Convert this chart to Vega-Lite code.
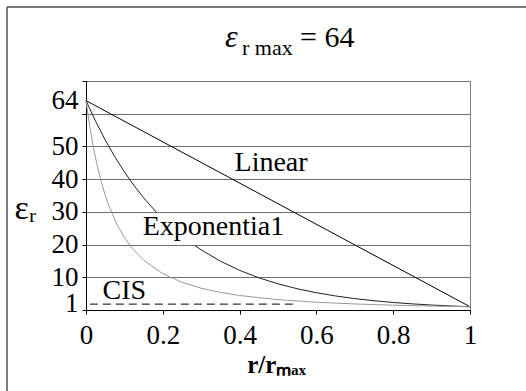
{
  "$schema": "https://vega.github.io/schema/vega-lite/v6.json",
  "width": 384,
  "height": 229,
  "autosize": "none",
  "padding": {"left": 86, "top": 81, "right": 56, "bottom": 81},
  "background": "white",
  "config": {
    "view": {"stroke": "#808080", "strokeWidth": 1},
    "font": "Liberation Serif",
    "axis": {"labelOverlap": false, "labelFlush": false}
  },
  "datasets": {
    "curves": [
      {"curve": "Linear", "seg": "L", "r": 0, "eps": 64},
      {"curve": "Linear", "seg": "L", "r": 1, "eps": 1},
      {"curve": "Exponential", "seg": "E1", "r": 0, "eps": 64},
      {"curve": "Exponential", "seg": "E1", "r": 0.025, "eps": 57.68},
      {"curve": "Exponential", "seg": "E1", "r": 0.05, "eps": 51.98},
      {"curve": "Exponential", "seg": "E1", "r": 0.075, "eps": 46.85},
      {"curve": "Exponential", "seg": "E1", "r": 0.1, "eps": 42.22},
      {"curve": "Exponential", "seg": "E1", "r": 0.125, "eps": 38.05},
      {"curve": "Exponential", "seg": "E1", "r": 0.15, "eps": 34.3},
      {"curve": "Exponential", "seg": "E1", "r": 0.184, "eps": 29.78},
      {"curve": "Exponential", "seg": "E2", "r": 0.284, "eps": 19.64},
      {"curve": "Exponential", "seg": "E2", "r": 0.3, "eps": 18.38},
      {"curve": "Exponential", "seg": "E2", "r": 0.35, "eps": 14.93},
      {"curve": "Exponential", "seg": "E2", "r": 0.4, "eps": 12.13},
      {"curve": "Exponential", "seg": "E2", "r": 0.45, "eps": 9.85},
      {"curve": "Exponential", "seg": "E2", "r": 0.5, "eps": 8},
      {"curve": "Exponential", "seg": "E2", "r": 0.55, "eps": 6.5},
      {"curve": "Exponential", "seg": "E2", "r": 0.6, "eps": 5.28},
      {"curve": "Exponential", "seg": "E2", "r": 0.65, "eps": 4.29},
      {"curve": "Exponential", "seg": "E2", "r": 0.7, "eps": 3.48},
      {"curve": "Exponential", "seg": "E2", "r": 0.75, "eps": 2.83},
      {"curve": "Exponential", "seg": "E2", "r": 0.8, "eps": 2.3},
      {"curve": "Exponential", "seg": "E2", "r": 0.85, "eps": 1.87},
      {"curve": "Exponential", "seg": "E2", "r": 0.9, "eps": 1.52},
      {"curve": "Exponential", "seg": "E2", "r": 0.95, "eps": 1.23},
      {"curve": "Exponential", "seg": "E2", "r": 1, "eps": 1},
      {"curve": "CIS", "seg": "C", "r": 0, "eps": 64},
      {"curve": "CIS", "seg": "C", "r": 0.01, "eps": 55.9},
      {"curve": "CIS", "seg": "C", "r": 0.02, "eps": 49.25},
      {"curve": "CIS", "seg": "C", "r": 0.03, "eps": 43.71},
      {"curve": "CIS", "seg": "C", "r": 0.04, "eps": 39.06},
      {"curve": "CIS", "seg": "C", "r": 0.05, "eps": 35.12},
      {"curve": "CIS", "seg": "C", "r": 0.06, "eps": 31.74},
      {"curve": "CIS", "seg": "C", "r": 0.08, "eps": 26.3},
      {"curve": "CIS", "seg": "C", "r": 0.1, "eps": 22.15},
      {"curve": "CIS", "seg": "C", "r": 0.12, "eps": 18.9},
      {"curve": "CIS", "seg": "C", "r": 0.15, "eps": 15.23},
      {"curve": "CIS", "seg": "C", "r": 0.2, "eps": 11.11},
      {"curve": "CIS", "seg": "C", "r": 0.25, "eps": 8.46},
      {"curve": "CIS", "seg": "C", "r": 0.3, "eps": 6.66},
      {"curve": "CIS", "seg": "C", "r": 0.35, "eps": 5.38},
      {"curve": "CIS", "seg": "C", "r": 0.4, "eps": 4.43},
      {"curve": "CIS", "seg": "C", "r": 0.5, "eps": 3.16},
      {"curve": "CIS", "seg": "C", "r": 0.6, "eps": 2.37},
      {"curve": "CIS", "seg": "C", "r": 0.7, "eps": 1.84},
      {"curve": "CIS", "seg": "C", "r": 0.8, "eps": 1.47},
      {"curve": "CIS", "seg": "C", "r": 0.9, "eps": 1.2},
      {"curve": "CIS", "seg": "C", "r": 1, "eps": 1}
    ],
    "level": [
      {"r": 0.01, "eps": 1.8},
      {"r": 0.55, "eps": 1.8}
    ],
    "labels": [
      {"label": "Linear", "r": 0.482, "eps": 45},
      {"label": "Exponentia1", "r": 0.332, "eps": 25.4},
      {"label": "CIS", "r": 0.1, "eps": 5.8}
    ]
  },
  "layer": [
    {
      "data": {"name": "curves"},
      "mark": {"type": "line", "strokeWidth": 1, "clip": false},
      "encoding": {
        "x": {
          "field": "r", "type": "quantitative",
          "scale": {"domain": [0, 1], "nice": false, "zero": false},
          "axis": {
            "values": [0, 0.2, 0.4, 0.6, 0.8, 1],
            "tickCount": 20,
            "labelExpr": "datum.value + ''",
            "grid": false,
            "domainColor": "black", "tickColor": "black", "tickSize": 4,
            "labelFont": "Liberation Serif", "labelFontSize": 27, "labelColor": "black", "labelPadding": 8,
            "labelFlush": false, "labelOverlap": false,
            "title": "r/rₘₐₓ", "titleFont": "Liberation Serif", "titleFontSize": 25, "titleFontWeight": "bold", "titleColor": "black",
            "titleX": 190, "titleY": 62, "titleAlign": "center", "titleBaseline": "alphabetic"
          }
        },
        "y": {
          "field": "eps", "type": "quantitative",
          "scale": {"domain": [0, 70], "nice": false},
          "axis": {
            "values": [0, 2, 10, 20, 30, 40, 50, 60, 64, 70],
            "tickCount": 20,
            "labelExpr": "datum.value == 2 ? '1' : ((datum.value == 64 || (datum.value >= 10 && datum.value <= 50)) ? datum.label : '')",
            "grid": true,
            "gridColor": "#707070",
            "gridWidth": 1,
            "gridOpacity": {"condition": {"test": "datum.value == 2 || datum.value == 64 || datum.value == 0", "value": 0}, "value": 1},
            "tickOpacity": {"condition": {"test": "datum.value == 2 || datum.value == 64", "value": 0}, "value": 1},
            "domainColor": "black", "tickColor": "black", "tickSize": 4,
            "labelFont": "Liberation Serif", "labelFontSize": 27, "labelColor": "black", "labelPadding": 4,
            "labelOverlap": false, "labelFlush": false,
            "title": "εᵣ", "titleFont": "Liberation Serif", "titleFontSize": 34, "titleFontWeight": "normal", "titleColor": "black",
            "titleAngle": 0, "titleX": -61, "titleY": 127, "titleAlign": "center", "titleBaseline": "middle"
          }
        },
        "color": {
          "field": "curve", "type": "nominal",
          "scale": {"domain": ["Linear", "Exponential", "CIS"], "range": ["#000000", "#202020", "#999999"]},
          "legend": null
        },
        "detail": {"field": "seg", "type": "nominal"}
      }
    },
    {
      "data": {"name": "level"},
      "mark": {"type": "line", "color": "black", "strokeWidth": 1, "strokeDash": [8, 5]},
      "encoding": {
        "x": {"field": "r", "type": "quantitative"},
        "y": {"field": "eps", "type": "quantitative"}
      }
    },
    {
      "data": {"name": "labels"},
      "mark": {"type": "text", "font": "Liberation Serif", "fontSize": 28, "color": "black", "align": "center", "baseline": "middle"},
      "encoding": {
        "x": {"field": "r", "type": "quantitative"},
        "y": {"field": "eps", "type": "quantitative"},
        "text": {"field": "label"}
      }
    },
    {
      "data": {"values": [{}]},
      "mark": {"type": "text", "text": "ε", "font": "Times New Roman", "fontStyle": "italic", "fontSize": 32, "color": "black", "align": "left", "baseline": "alphabetic", "clip": false},
      "encoding": {
        "x": {"datum": 0.362, "type": "quantitative"},
        "y": {"datum": 80.39, "type": "quantitative"}
      }
    },
    {
      "data": {"values": [{}]},
      "mark": {"type": "text", "text": "r max", "font": "Times New Roman", "fontSize": 22, "color": "black", "align": "left", "baseline": "alphabetic", "clip": false},
      "encoding": {
        "x": {"datum": 0.4063, "type": "quantitative"},
        "y": {"datum": 77.95, "type": "quantitative"}
      }
    },
    {
      "data": {"values": [{}]},
      "mark": {"type": "text", "text": "= 64", "font": "Times New Roman", "fontSize": 30, "color": "black", "align": "left", "baseline": "alphabetic", "clip": false},
      "encoding": {
        "x": {"datum": 0.5573, "type": "quantitative"},
        "y": {"datum": 80.39, "type": "quantitative"}
      }
    },
    {
      "data": {"values": [{}]},
      "mark": {"type": "rule", "color": "#505050", "strokeWidth": 1.5, "clip": false},
      "encoding": {
        "x": {"datum": -0.2057, "type": "quantitative"},
        "y": {"datum": 92.6, "type": "quantitative"},
        "y2": {"datum": -40}
      }
    },
    {
      "data": {"values": [{}]},
      "mark": {"type": "rule", "color": "#505050", "strokeWidth": 1.5, "clip": false},
      "encoding": {
        "x": {"datum": -0.2057, "type": "quantitative"},
        "x2": {"datum": 1.3},
        "y": {"datum": 92.6, "type": "quantitative"}
      }
    }
  ]
}
